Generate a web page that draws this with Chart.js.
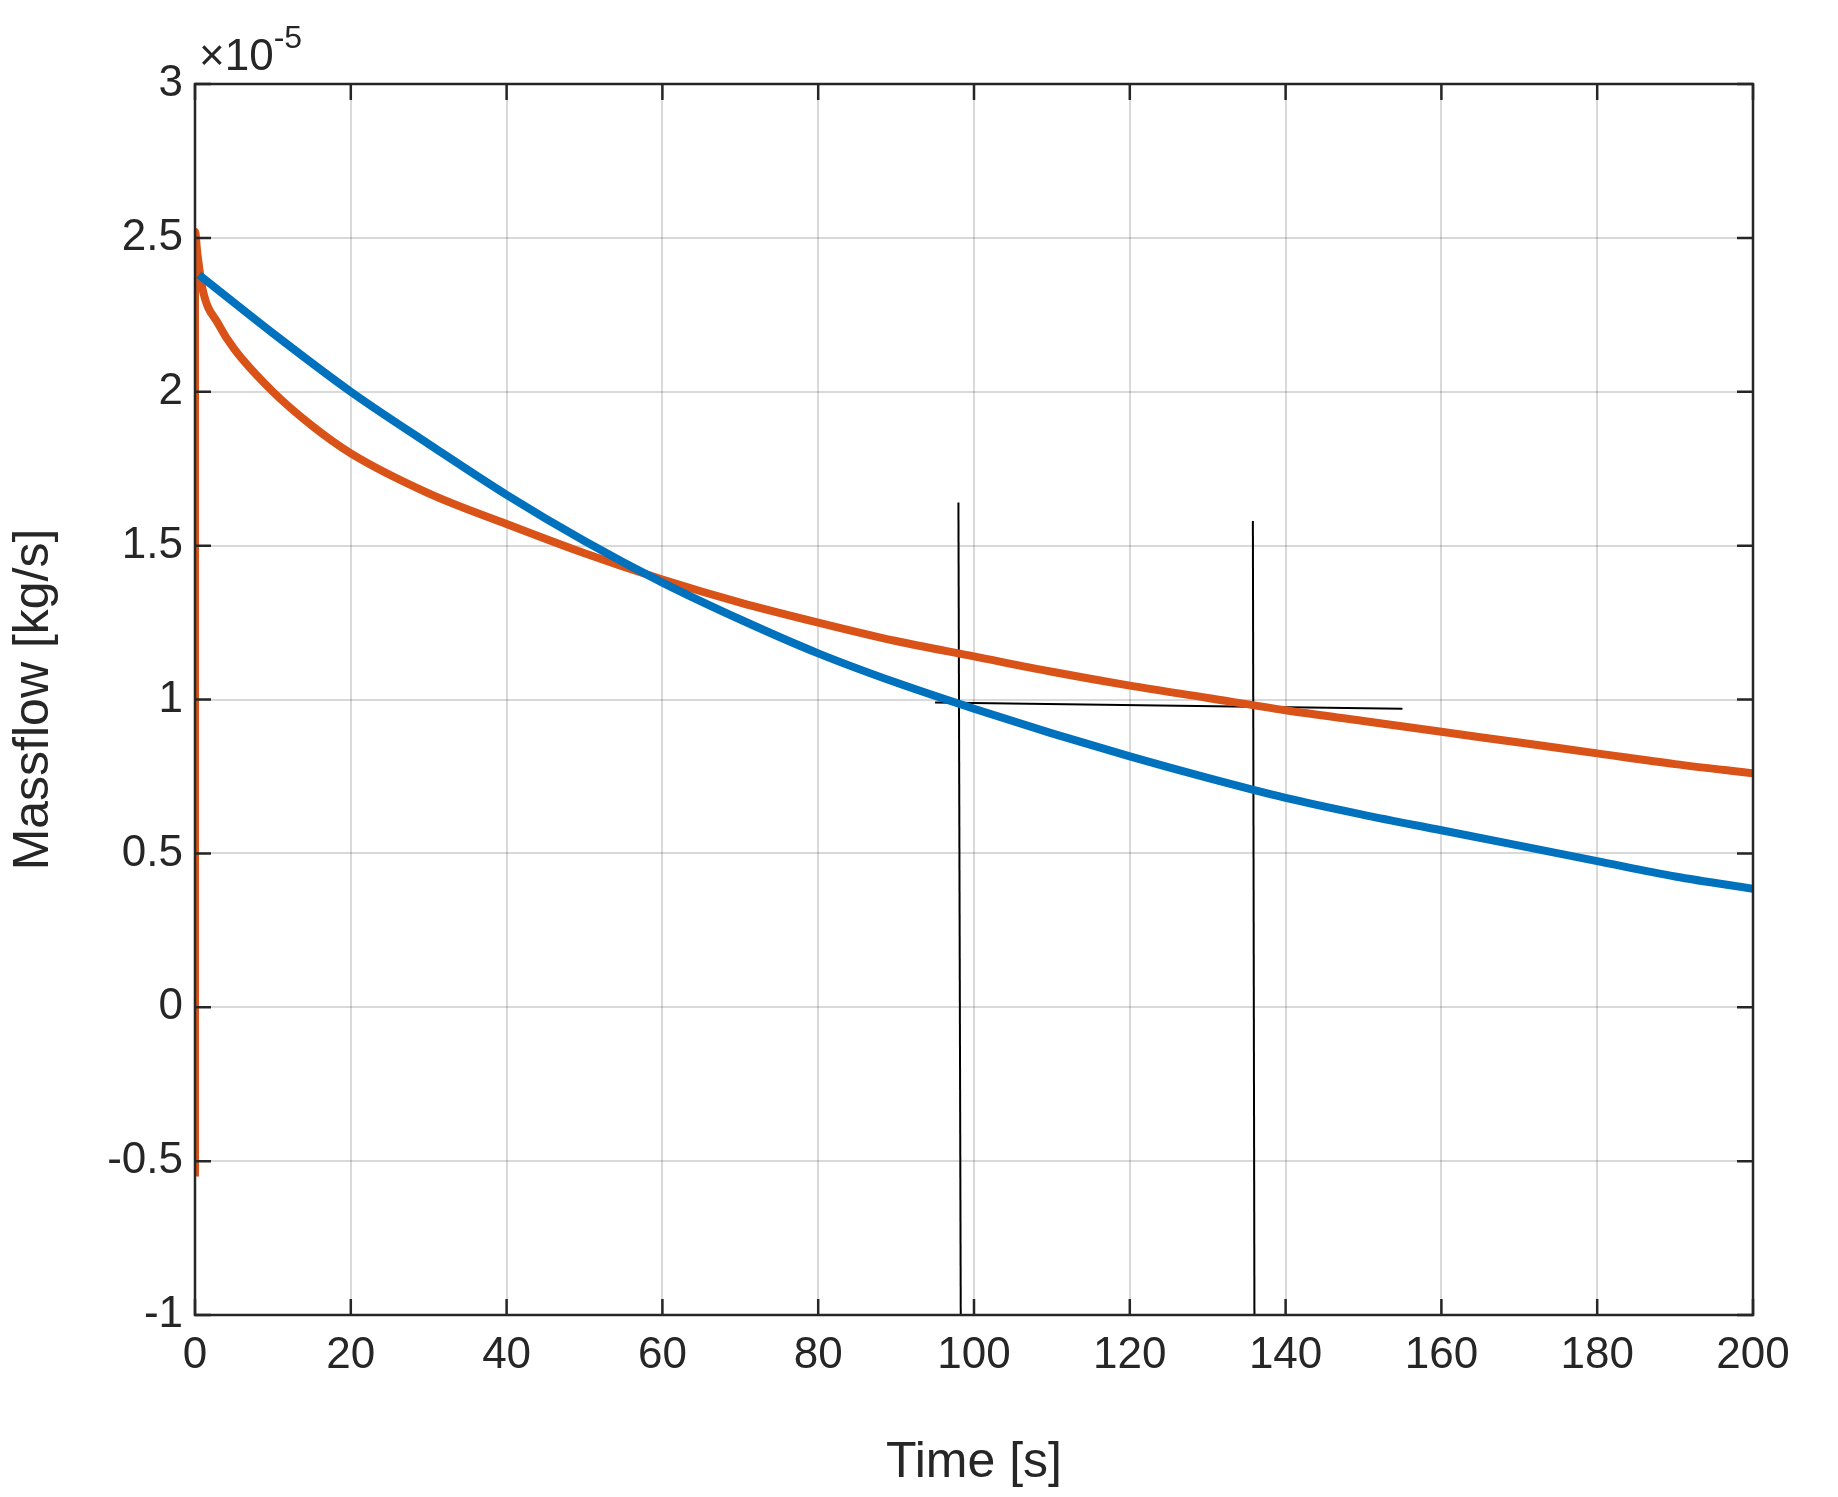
<!DOCTYPE html>
<html><head><style>html,body{margin:0;background:#fff}</style>
<script src="https://cdn.jsdelivr.net/npm/chart.js"></script></head>
<body><canvas id="c" width="1838" height="1497" style="width:1838px;height:1497px"></canvas>
<script>
const xTicks=[0,20,40,60,80,100,120,140,160,180,200];
const yTicks=[-1,-0.5,0,0.5,1,1.5,2,2.5,3];
const blueT=[0.5,1,10,20,30,40,50,60,70,80,90,100,110,120,130,140,150,160,170,180,190,200];
const blueY=[2.38,2.37,2.19,2.0,1.83,1.665,1.515,1.38,1.26,1.15,1.055,0.97,0.89,0.815,0.745,0.68,0.625,0.575,0.525,0.475,0.425,0.385];
const orangeT=[0,0,0.3,1,3,5,10,15,20,30,40,50,60,70,80,90,100,110,120,130,140,150,160,170,180,190,200];
const orangeY=[-0.55,2.52,2.45,2.33,2.22,2.14,2.0,1.89,1.8,1.67,1.57,1.475,1.39,1.315,1.25,1.19,1.14,1.09,1.045,1.005,0.965,0.93,0.895,0.86,0.825,0.79,0.76];
const cursorA=[[98,1.64],[98.3,-1]];
const cursorB=[[135.8,1.58],[136,-1]];
const cursorH=[[95,0.99],[155,0.97]];
const pts=(t,y)=>t.map((v,i)=>({x:v,y:y[i]}));
const arr=a=>a.map(p=>({x:p[0],y:p[1]}));
const font='Arial, "Liberation Sans", sans-serif';
const frame={id:'frame',afterDraw(ch){const c=ch.ctx,a=ch.chartArea,xs=ch.scales.x,ys=ch.scales.y;c.save();c.strokeStyle='#262626';c.lineWidth=2.5;
c.beginPath();xTicks.forEach(v=>{const p=xs.getPixelForValue(v);c.moveTo(p,a.bottom);c.lineTo(p,a.bottom-16);c.moveTo(p,a.top);c.lineTo(p,a.top+16);});
yTicks.forEach(v=>{const p=ys.getPixelForValue(v);c.moveTo(a.left,p);c.lineTo(a.left+16,p);c.moveTo(a.right,p);c.lineTo(a.right-16,p);});c.stroke();
c.strokeRect(a.left,a.top,a.right-a.left,a.bottom-a.top);
c.fillStyle='#262626';c.font='44px '+font;c.textBaseline='alphabetic';c.fillText('×10',a.left+4,a.top-14);
const w=c.measureText('×10').width;c.font='32px '+font;c.fillText('-5',a.left+4+w,a.top-36);c.restore();}};
new Chart(document.getElementById('c'),{type:'scatter',
data:{datasets:[
{data:pts(blueT,blueY),showLine:true,borderColor:'#0072BD',borderWidth:8,pointRadius:0,cubicInterpolationMode:'monotone'},
{data:pts(orangeT,orangeY),showLine:true,borderColor:'#D95319',borderWidth:8,pointRadius:0,cubicInterpolationMode:'monotone'},
{data:arr(cursorA),showLine:true,borderColor:'#000',borderWidth:2,pointRadius:0},
{data:arr(cursorB),showLine:true,borderColor:'#000',borderWidth:2,pointRadius:0},
{data:arr(cursorH),showLine:true,borderColor:'#000',borderWidth:2,pointRadius:0}]},
options:{responsive:false,animation:false,devicePixelRatio:1,
layout:{padding:{top:84,right:85,left:0,bottom:0}},
plugins:{legend:{display:false},tooltip:{enabled:false}},
scales:{
x:{type:'linear',min:0,max:200,afterBuildTicks:s=>{s.ticks=xTicks.map(v=>({value:v}))},
afterFit:s=>{s.height=182},
grid:{color:'rgba(0,0,0,0.15)',lineWidth:2,drawTicks:false},border:{display:false},
ticks:{color:'#262626',font:{size:44,family:font},padding:14,maxRotation:0},
title:{display:true,text:'Time [s]',color:'#262626',font:{size:50,family:font},padding:{top:4}}},
y:{type:'linear',min:-1,max:3,afterBuildTicks:s=>{s.ticks=yTicks.map(v=>({value:v}))},
afterFit:s=>{s.width=195},
grid:{color:'rgba(0,0,0,0.15)',lineWidth:2,drawTicks:false},border:{display:false},
ticks:{color:'#262626',font:{size:44,family:font},padding:12,callback:v=>String(v)},
title:{display:true,text:'Massflow [kg/s]',color:'#262626',font:{size:50,family:font},padding:{bottom:4}}}}},
plugins:[frame]});
</script></body></html>
